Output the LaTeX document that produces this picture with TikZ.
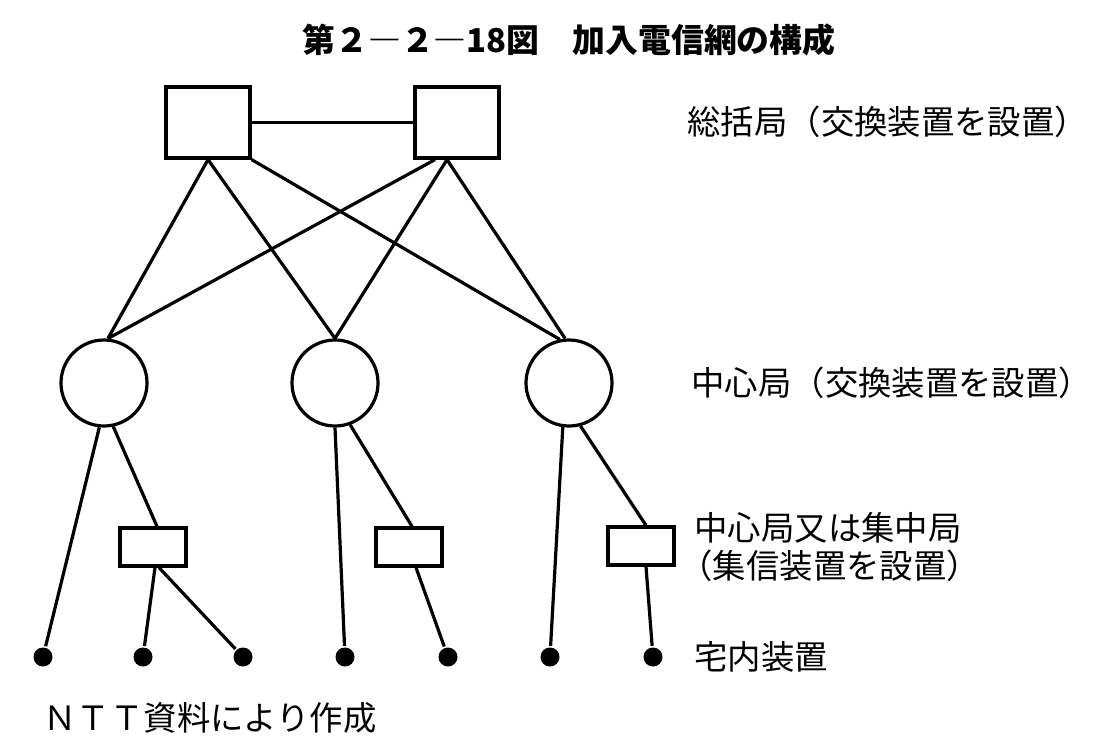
\documentclass[tikz,border=0pt]{standalone}
\usepackage{fontspec}
\usetikzlibrary{calc}
\newfontfamily\jp{Noto Sans CJK JP}
\begin{document}
\begin{tikzpicture}[x=1bp,y=-1bp,line width=3.2bp,
  bigbox/.style={draw,minimum width=84bp,minimum height=71bp,inner sep=0pt},
  stn/.style={draw,circle,minimum size=86bp,inner sep=0pt},
  conc/.style={draw,minimum width=66bp,minimum height=38bp,inner sep=0pt},
  term/.style={circle,fill,minimum size=19bp,inner sep=0pt},
  lbl/.style={anchor=west,font=\jp\fontsize{33.5}{38}\selectfont,inner sep=0pt},
  ttl/.style={font=\jp\bfseries\fontsize{33}{38}\selectfont,inner sep=0pt}]
\useasboundingbox (0,0) rectangle (1099,755);
% title
\node[ttl] (title) at (569,40) {第２―２―18図　加入電信網の構成};
% top offices
\node[bigbox] (s1) at (208,122.5) {};
\node[bigbox] (s2) at (457,122.5) {};
% central offices
\node[stn] (c1) at (104,383) {};
\node[stn] (c2) at (335,383) {};
\node[stn] (c3) at (569,383) {};
% concentrators
\node[conc] (r1) at (153,547) {};
\node[conc] (r2) at (409,547) {};
\node[conc] (r3) at (641,546) {};
% terminals
\node[term] (d1) at (43,657) {};
\node[term] (d2) at (143,657) {};
\node[term] (d3) at (243,657) {};
\node[term] (d4) at (345,657) {};
\node[term] (d5) at (448,657) {};
\node[term] (d6) at (550,657) {};
\node[term] (d7) at (653,657) {};
% connectors
\draw (s1.east) -- (s2.west);
\draw (s1.south) -- (c1.85);
\draw (s1.south) -- (c2.north);
\draw (s1.south east) -- (c3.102);
\draw ($(s2.south)+(-22,0)$) -- (c1.85);
\draw ($(s2.south)+(-10,0)$) -- (c2.north);
\draw ($(s2.south)+(-10,0)$) -- (c3.95);
\draw (c1.264) -- (d1);
\draw (c1.282) -- ($(r1.north)+(4,0)$);
\draw ($(r1.south)+(2,0)$) -- (d2);
\draw ($(r1.south)+(6,0)$) -- (d3);
\draw (c2.270) -- (d4);
\draw (c2.290) -- ($(r2.north)+(3,0)$);
\draw ($(r2.south)+(7,0)$) -- (d5);
\draw (c3.262) -- (d6);
\draw (c3.285) -- ($(r3.north)+(5,0)$);
\draw ($(r3.south)+(5,0)$) -- (d7);
% labels
\node[lbl] (l1) at (686,122) {総括局（交換装置を設置）};
\node[lbl] (l2) at (690,383) {中心局（交換装置を設置）};
\node[lbl] (l3) at (693,528) {中心局又は集中局};
\node[lbl] (l4) at (678,566) {（集信装置を設置）};
\node[lbl] (l5) at (693,657) {宅内装置};
\node[lbl] (src) at (42,718) {ＮＴＴ資料により作成};
\end{tikzpicture}
\end{document}
